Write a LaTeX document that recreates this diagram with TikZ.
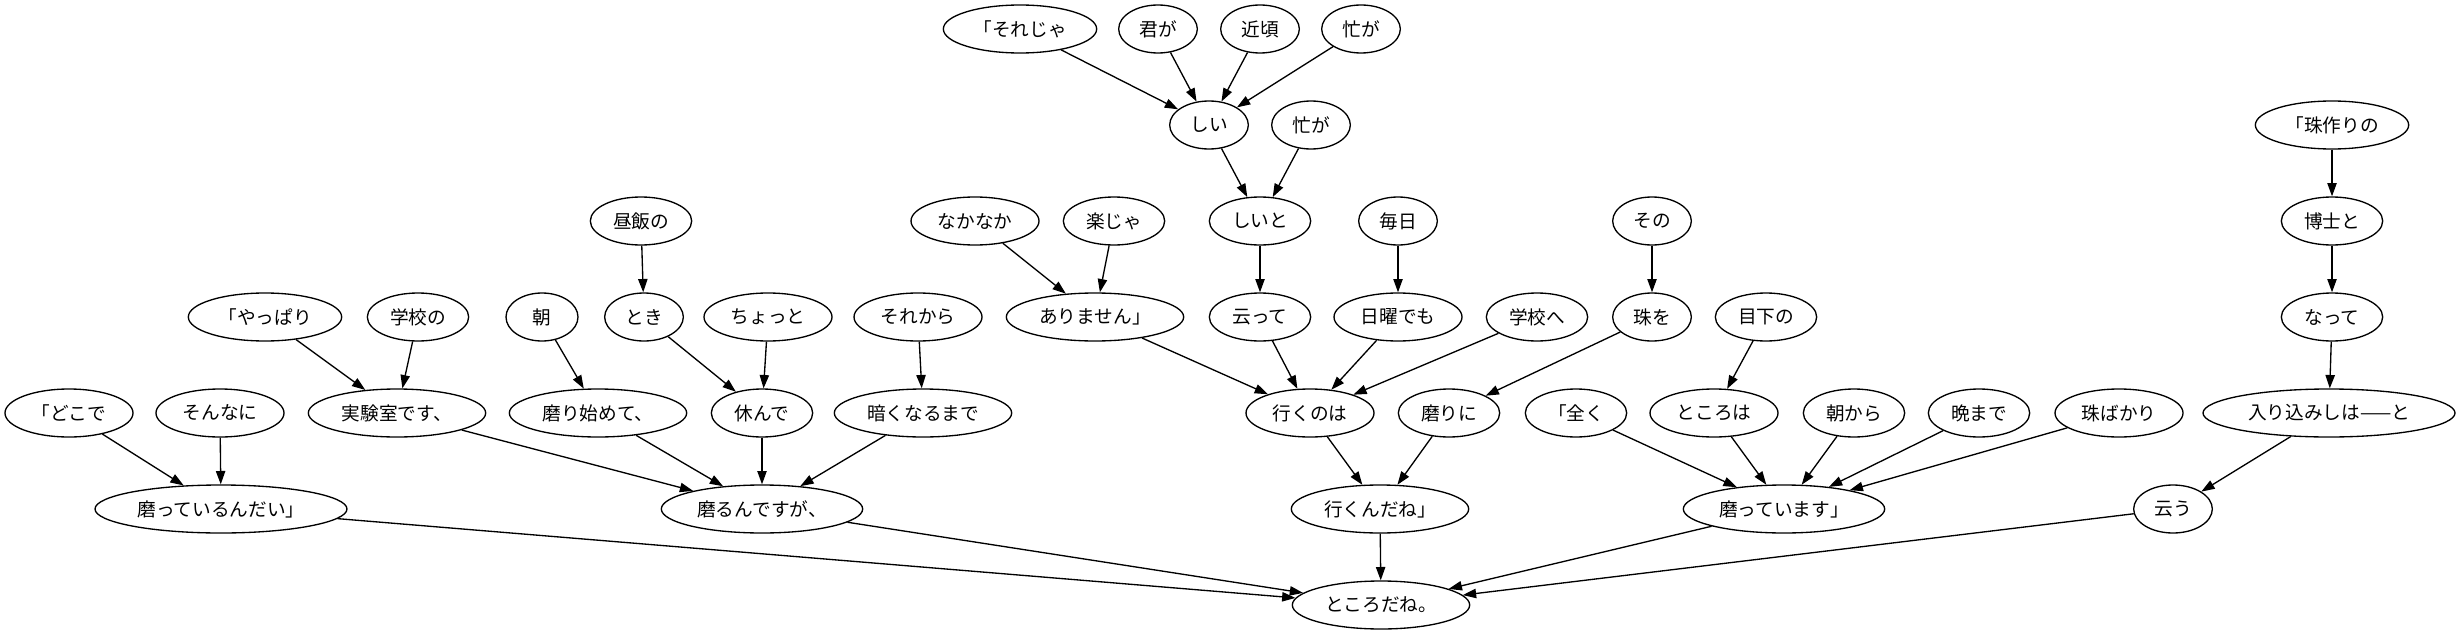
\documentclass[tikz,border=0pt]{standalone}
\usepackage{fontspec}
\newfontfamily\jp{Noto Sans CJK JP}
\usetikzlibrary{shapes.geometric,arrows.meta}

\begin{document}
\begin{tikzpicture}[x=0.75pt,y=-0.75pt,line width=1pt,
    every node/.style={draw,ellipse,inner sep=1pt,minimum height=36pt,
      font=\jp\fontsize{14pt}{16pt}\selectfont},
    w1/.style={minimum width=54pt},
    w2/.style={minimum width=59pt},
    w3/.style={minimum width=76pt},
    w4/.style={minimum width=96pt},
    w5/.style={minimum width=115pt},
    w6/.style={minimum width=133pt},
    w7/.style={minimum width=151pt},
    w9/.style={minimum width=189pt},
    >={Triangle[length=10pt,width=7pt]}]
      \useasboundingbox (0,0) rectangle (2463,635);
      \draw
        (1020,29) node[w5] (0){「それじゃ}
        (1158,29) node[w2] (1){君が}
        (1260,29) node[w2] (2){近頃}
        (1361,29) node[w2] (3){忙が}
        (1209,125) node[w2] (4){しい}
        (1311,125) node[w2] (5){忙が}
        (2332,125) node[w5] (6){「珠作りの}
        (641,221) node[w3] (7){昼飯の}
        (975,221) node[w4] (8){なかなか}
        (1114,221) node[w3] (9){楽じゃ}
        (1260,221) node[w3] (10){しいと}
        (1398,221) node[w2] (11){毎日}
        (1652,221) node[w2] (12){その}
        (2332,221) node[w3] (13){博士と}
        (265,317) node[w5] (14){「やっぱり}
        (418,317) node[w3] (15){学校の}
        (542,317) node[w1] (16){朝}
        (644,317) node[w2] (17){とき}
        (768,317) node[w4] (18){ちょっと}
        (918,317) node[w4] (19){それから}
        (1095,317) node[w6] (20){ありません」}
        (1260,317) node[w3] (21){云って}
        (1398,317) node[w4] (22){日曜でも}
        (1537,317) node[w3] (23){学校へ}
        (1652,317) node[w2] (24){珠を}
        (1766,317) node[w3] (25){目下の}
        (2332,317) node[w3] (26){なって}
        (69,413) node[w4] (27){「どこで}
        (220,413) node[w4] (28){そんなに}
        (397,413) node[w6] (29){実験室です、}
        (598,413) node[w6] (30){磨り始めて、}
        (762,413) node[w3] (31){休んで}
        (923,413) node[w6] (32){暗くなるまで}
        (1310,413) node[w4] (33){行くのは}
        (1449,413) node[w3] (34){磨りに}
        (1576,413) node[w3] (35){「全く}
        (1714,413) node[w4] (36){ところは}
        (1854,413) node[w3] (37){朝から}
        (1979,413) node[w3] (38){晩まで}
        (2119,413) node[w4] (39){珠ばかり}
        (2329,413) node[w9] (40){入り込みしは——と}
        (221,509) node[w9] (41){磨っているんだい」}
        (762,509) node[w7] (42){磨るんですが、}
        (1380,509) node[w6] (43){行くんだね」}
        (1784,509) node[w7] (44){磨っています」}
        (2173,509) node[w2] (45){云う}
        (1381,605) node[w6] (46){ところだね。};
      \begin{scope}[->]
        \draw (0) to (4);
        \draw (1) to (4);
        \draw (2) to (4);
        \draw (3) to (4);
        \draw (4) to (10);
        \draw (5) to (10);
        \draw (10) to (21);
        \draw (11) to (22);
        \draw (8) to (20);
        \draw (9) to (20);
        \draw (20) to (33);
        \draw (21) to (33);
        \draw (22) to (33);
        \draw (23) to (33);
        \draw (12) to (24);
        \draw (24) to (34);
        \draw (33) to (43);
        \draw (34) to (43);
        \draw (43) to (46);
        \draw (7) to (17);
        \draw (17) to (31);
        \draw (18) to (31);
        \draw (19) to (32);
        \draw (14) to (29);
        \draw (15) to (29);
        \draw (16) to (30);
        \draw (29) to (42);
        \draw (30) to (42);
        \draw (31) to (42);
        \draw (32) to (42);
        \draw (27) to (41);
        \draw (28) to (41);
        \draw (41) to (46);
        \draw (42) to (46);
        \draw (25) to (36);
        \draw (35) to (44);
        \draw (36) to (44);
        \draw (37) to (44);
        \draw (38) to (44);
        \draw (39) to (44);
        \draw (44) to (46);
        \draw (6) to (13);
        \draw (13) to (26);
        \draw (26) to (40);
        \draw (40) to (45);
        \draw (45) to (46);
      \end{scope}
    \end{tikzpicture}
\end{document}
